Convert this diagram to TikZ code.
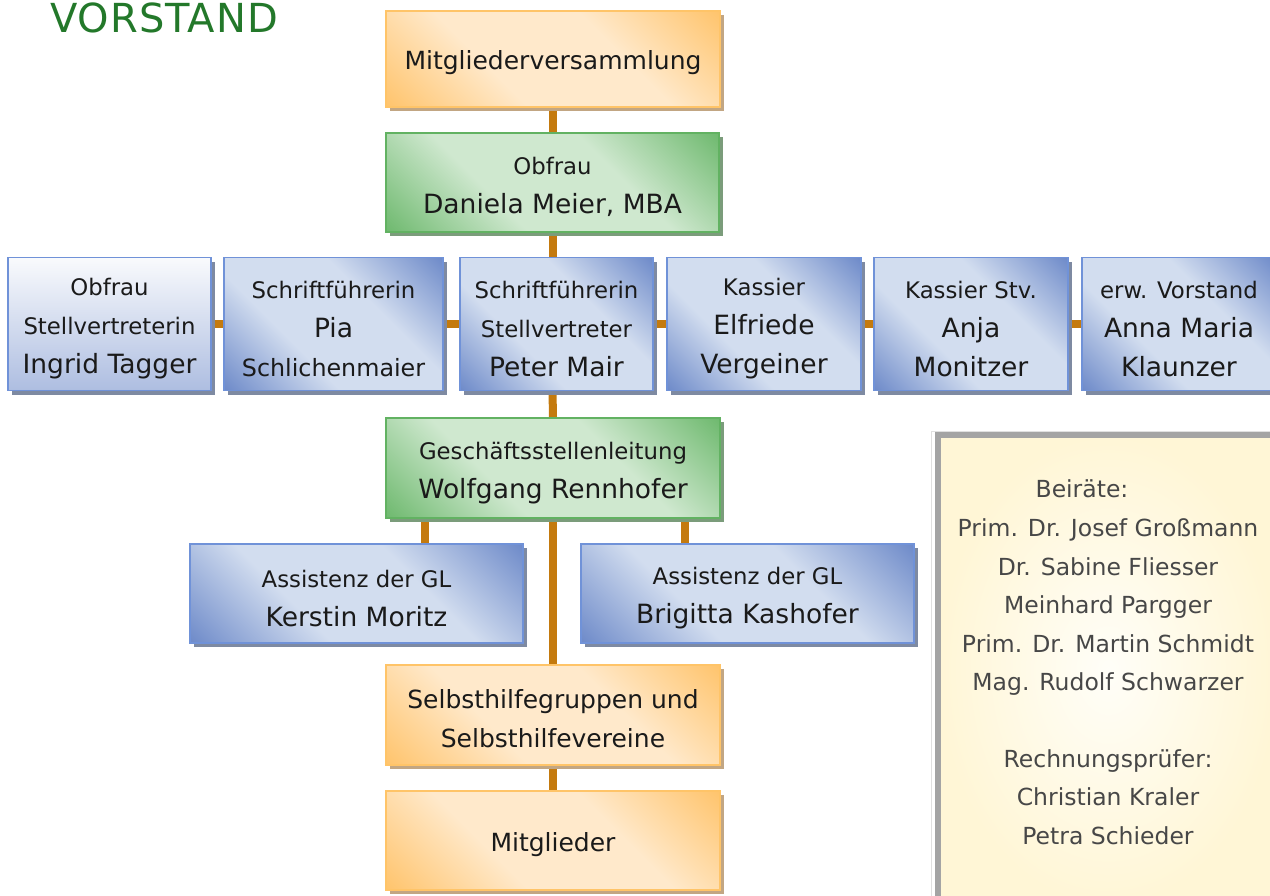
\documentclass[tikz,border=0pt]{standalone}
\usepackage{fontspec}
\setmainfont{DejaVu Sans}
\usetikzlibrary{shadows,backgrounds}
\definecolor{bdark}{HTML}{6B88C8}
\definecolor{blight}{HTML}{D2DDEF}
\definecolor{bborder}{HTML}{7092D8}
\definecolor{bshadow}{HTML}{7E8AA2}
\definecolor{odark}{HTML}{FFC36A}
\definecolor{olight}{HTML}{FFE9CB}
\definecolor{oborder}{HTML}{FFC468}
\definecolor{oshadow}{HTML}{C2A683}
\definecolor{gdark}{HTML}{6CB86C}
\definecolor{glight}{HTML}{CFE8CF}
\definecolor{gborder}{HTML}{62B262}
\definecolor{gshadow}{HTML}{7B9C7B}
\definecolor{conncol}{HTML}{C47A0E}
\definecolor{txt}{HTML}{1A1A1A}
\definecolor{titlegreen}{HTML}{23782A}
\definecolor{ytop}{HTML}{FFF6D6}
\definecolor{ycenter}{HTML}{FFFEF8}
\definecolor{grayrim}{HTML}{A4A4A4}
\pgfdeclarehorizontalshading{blueg}{100bp}{color(0bp)=(bdark); color(14bp)=(bdark); color(38bp)=(blight); color(62bp)=(blight); color(86bp)=(bdark); color(100bp)=(bdark)}
\pgfdeclarehorizontalshading{orangeg}{100bp}{color(0bp)=(odark); color(14bp)=(odark); color(38bp)=(olight); color(62bp)=(olight); color(86bp)=(odark); color(100bp)=(odark)}
\pgfdeclarehorizontalshading{greeng}{100bp}{color(0bp)=(gdark); color(14bp)=(gdark); color(38bp)=(glight); color(62bp)=(glight); color(86bp)=(gdark); color(100bp)=(gdark)}
\newcommand\TtlFont{\fontsize{22.8}{39}\selectfont}
\newcommand\NmFont{\fontsize{26.5}{39}\selectfont}
\newcommand\BigFont{\fontsize{25}{39}\selectfont}
\newcommand\Up{\rule{0pt}{27pt}}
\tikzset{
  boxbase/.style={rectangle, draw, line width=1.8pt, inner sep=0pt, align=center,
    font=\TtlFont, text=txt},
  bluebox/.style={boxbase, draw=bborder, shade, shading=blueg, shading angle=45,
    drop shadow={shadow xshift=4pt, shadow yshift=-4pt, fill=bshadow, opacity=1}},
  bluewhitebox/.style={boxbase, draw=bborder, top color=white!96!bdark, bottom color=bdark!55,
    drop shadow={shadow xshift=4pt, shadow yshift=-4pt, fill=bshadow, opacity=1}},
  orangebox/.style={boxbase, draw=oborder, shade, shading=orangeg, shading angle=45, font=\BigFont,
    drop shadow={shadow xshift=4pt, shadow yshift=-4pt, fill=oshadow, opacity=1}},
  greenbox/.style={boxbase, draw=gborder, shade, shading=greeng, shading angle=45,
    drop shadow={shadow xshift=4pt, shadow yshift=-4pt, fill=gshadow, opacity=1}},
  conn/.style={draw=conncol, line width=8pt},
  beirtext/.style={font=\fontsize{23.5}{38.4}\selectfont, text=black!72, align=center, inner sep=0pt}
}
\begin{document}
\begin{tikzpicture}[x=1pt,y=-1pt]
\useasboundingbox (0,0) rectangle (1270,895);
% title
\node[anchor=base west, inner sep=0pt, font=\fontsize{40}{40}\selectfont\addfontfeatures{LetterSpace=2.5}, text=titlegreen] (title) at (50,32) {VORSTAND};
% main column
\node[orangebox, minimum width=334pt, minimum height=96pt] (mv) at (553,59) {\Up Mitgliederversammlung};
\node[greenbox, minimum width=333pt, minimum height=99pt] (obf) at (552.5,182.5) {\Up Obfrau\\{\NmFont Daniela Meier, MBA}};
% row
\node[bluewhitebox, minimum width=203pt, minimum height=133pt] (b1) at (109.5,324) {\Up Obfrau\\Stellvertreterin\\{\NmFont Ingrid Tagger}};
\node[bluebox, minimum width=219pt, minimum height=133pt] (b2) at (333.5,324) {\Up Schriftführerin\\{\NmFont Pia}\\{\fontsize{23.8}{39}\selectfont Schlichenmaier}};
\node[bluebox, minimum width=193pt, minimum height=133pt] (b3) at (556.5,324) {\Up Schriftführerin\\Stellvertreter\\{\NmFont Peter Mair}};
\node[bluebox, minimum width=194pt, minimum height=133pt] (b4) at (764,324) {\Up Kassier\\{\NmFont Elfriede}\\{\NmFont Vergeiner}};
\node[bluebox, minimum width=194pt, minimum height=133pt] (b5) at (971,324) {\Up Kassier Stv.\\{\NmFont Anja}\\{\NmFont Monitzer}};
\node[bluebox, minimum width=194pt, minimum height=133pt] (b6) at (1179,324) {\Up erw. Vorstand\\{\NmFont Anna Maria}\\{\NmFont Klaunzer}};
% GL
\node[greenbox, minimum width=334pt, minimum height=100pt] (gl) at (553,468) {\Up Geschäftsstellenleitung\\{\NmFont Wolfgang Rennhofer}};
\node[bluebox, minimum width=333pt, minimum height=99pt] (al) at (356.5,593.5) {\Up Assistenz der GL\\{\NmFont Kerstin Moritz}};
\node[bluebox, minimum width=333pt, minimum height=99pt] (ar) at (747.5,593.5) {\Up Assistenz der GL\\{\NmFont Brigitta Kashofer}};
\node[orangebox, minimum width=334pt, minimum height=100pt] (sh) at (553,715) {\Up Selbsthilfegruppen und\\Selbsthilfevereine};
\node[orangebox, minimum width=334pt, minimum height=99pt] (mg) at (553,840.5) {\Up Mitglieder};
% Beiraete panel
\draw[line width=1pt, black!12] (931,900) -- (931,431) -- (1280,431);
\node[rectangle, inner sep=0pt, minimum width=340pt, minimum height=470pt, anchor=north west,
  inner color=ycenter, outer color=ytop] (beir) at (938,435) {};
\draw[line width=6pt, grayrim] (beir.south west) -- (beir.north west) -- (beir.north east);
\node[beirtext, anchor=base] (beirhead) at (1082,497) {Beiräte:};
\node[beirtext, anchor=base] (beirlist) at (1108,844) {Prim. Dr. Josef Großmann\\Dr. Sabine Fliesser\\Meinhard Pargger\\Prim. Dr. Martin Schmidt\\Mag. Rudolf Schwarzer\\[38.4pt]Rechnungsprüfer:\\Christian Kraler\\Petra Schieder};
% connectors
\begin{scope}[on background layer]
  \draw[conn] (mv.south) -- (obf.north -| mv.south);
  \draw[conn] (obf.south) -- (obf.south |- b3.north);
  \draw[conn] (b3.south -| obf.south) -- (gl.north);
  \draw[conn] (b1.east) -- (b2.west);
  \draw[conn] (b2.east) -- (b3.west);
  \draw[conn] (b3.east) -- (b4.west);
  \draw[conn] (b4.east) -- (b5.west);
  \draw[conn] (b5.east) -- (b6.west);
  \draw[conn] ([xshift=40pt]gl.south west) -- ([xshift=40pt]gl.south west |- al.north);
  \draw[conn] ([xshift=-36pt]gl.south east) -- ([xshift=-36pt]gl.south east |- ar.north);
  \draw[conn] (gl.south) -- (sh.north);
  \draw[conn] (sh.south) -- (mg.north);
\end{scope}
\end{tikzpicture}
\end{document}
